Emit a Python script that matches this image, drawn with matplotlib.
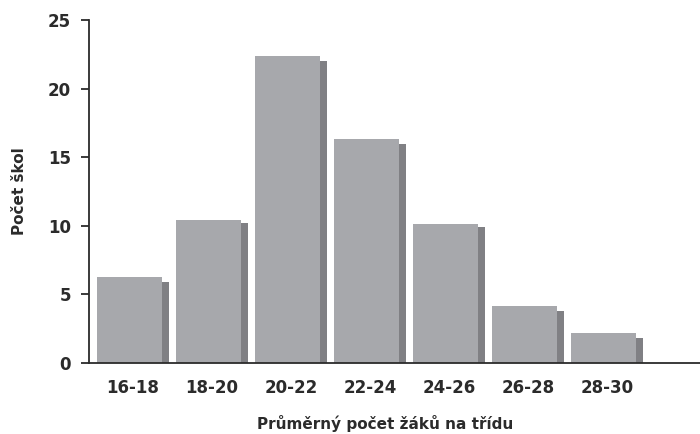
import matplotlib
matplotlib.use("Agg")
import matplotlib.pyplot as plt
import numpy as np

# Data
kategorie = ["16-18", "18-20", "20-22", "22-24", "24-26", "26-28", "28-30"]
pocet_skol = [6.25, 10.45, 22.35, 16.3, 10.1, 4.15, 2.15]
stin_pokles = [0.35, 0.25, 0.35, 0.35, 0.2, 0.35, 0.35]

barva_sloupce = "#a7a8ac"
barva_stinu = "#808084"
barva_textu = "#2b2b2b"

plt.rcParams["font.family"] = ["DejaVu Sans"]

fig = plt.figure(figsize=(7, 4.34), dpi=100)
ax = fig.add_axes([0.127, 0.164, 0.873, 0.79])

x = np.arange(len(kategorie))
sirka = 0.823
stin = 0.089
leva = x - (sirka + stin) / 2

stin_vyska = [v - d for v, d in zip(pocet_skol, stin_pokles)]
ax.bar(leva + sirka, stin_vyska, width=stin, align="edge", color=barva_stinu, zorder=1)
ax.bar(leva, pocet_skol, width=sirka, align="edge", color=barva_sloupce, zorder=2)

ax.set_xlim(-0.557, 7.18)
ax.set_ylim(0, 25)
ax.set_yticks([0, 5, 10, 15, 20, 25])
ax.set_xticks(x)
ax.set_xticklabels(kategorie)

for s in ["top", "right"]:
    ax.spines[s].set_visible(False)
for s in ["left", "bottom"]:
    ax.spines[s].set_color(barva_textu)
    ax.spines[s].set_linewidth(1.3)
    ax.spines[s].set_zorder(3)

ax.tick_params(axis="y", length=6, width=1.3, color=barva_textu, pad=7,
               labelsize=12, labelcolor=barva_textu)
ax.tick_params(axis="x", length=0, pad=12, labelsize=12, labelcolor=barva_textu)
for lab in ax.get_xticklabels() + ax.get_yticklabels():
    lab.set_fontweight("bold")

fig.text(385 / 700, 1 - 424 / 434, "Průměrný počet žáků na třídu", fontsize=11,
         fontweight="bold", color=barva_textu, ha="center", va="center")
ax.set_ylabel("Počet škol", fontsize=11, fontweight="bold",
              color=barva_textu, labelpad=15)

fig.savefig("out.png", dpi=100)
